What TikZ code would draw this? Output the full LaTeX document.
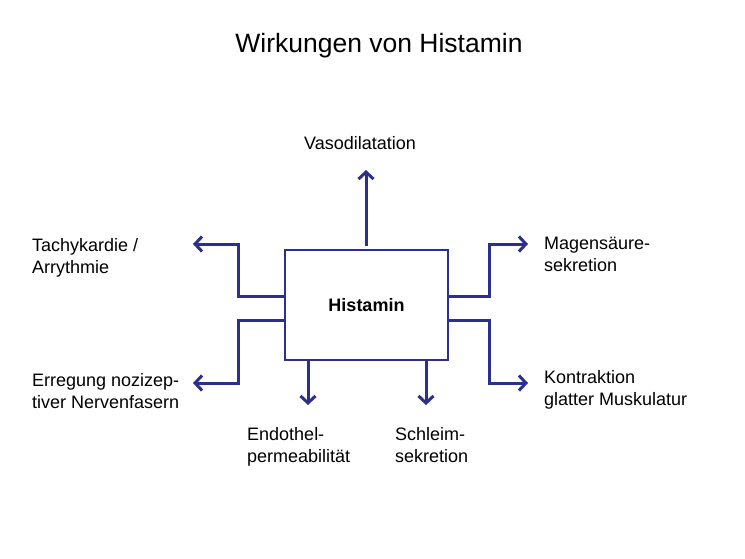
\documentclass[tikz,border=0pt]{standalone}
\usepackage{fontspec}
\setmainfont{Liberation Sans}
\usetikzlibrary{arrows.meta}
\definecolor{navy}{RGB}{44,47,140}
\tikzset{
  lbl/.style={inner sep=0pt, align=left, font=\fontsize{18}{22}\selectfont, text=black},
  conn/.style={draw=navy, line width=3pt, -{Straight Barb[length=7pt,width=15pt]}},
  hbox/.style={draw=navy, line width=2.2pt, fill=white, minimum width=163pt, minimum height=110pt, inner sep=0pt, font=\fontsize{18}{22}\selectfont\bfseries}
}
\begin{document}
\begin{tikzpicture}[x=1pt,y=-1pt]
\useasboundingbox (0,0) rectangle (745,558);
\node[inner sep=0pt, font=\fontsize{26.5}{30}\selectfont, anchor=base] (title) at (379,52) {Wirkungen von Histamin};
\node[hbox] (h) at (366.5,305) {Histamin};
% coordinates
\coordinate (ul) at (h.west |- 0,296);
\coordinate (ll) at (h.west |- 0,320);
\coordinate (ur) at (h.east |- 0,296);
\coordinate (lr) at (h.east |- 0,320);
\coordinate (topst) at (366,246);
\coordinate (b1) at (308,360);
\coordinate (b2) at (426,360);
% labels (base = baseline of last line)
\node[lbl, anchor=base] (vaso) at (360,149) {Vasodilatation};
\node[lbl, anchor=base west] (tach) at (32,273) {Tachykardie /\\Arrythmie};
\node[lbl, anchor=base west] (erreg) at (32,408) {Erregung nozizep-\\tiver Nervenfasern};
\node[lbl, anchor=base west] (magen) at (544,271) {Magensäure-\\sekretion};
\node[lbl, anchor=base west] (kontr) at (544,405) {Kontraktion\\glatter Muskulatur};
\node[lbl, anchor=base west] (endo) at (247,462) {Endothel-\\permeabilität};
\node[lbl, anchor=base west] (schl) at (395,462) {Schleim-\\sekretion};
% tips
\coordinate (tTop) at (366,170);
\coordinate (tTach) at (193,244);
\coordinate (tErreg) at (193,383);
\coordinate (tMagen) at (528,244);
\coordinate (tKontr) at (528,383);
\coordinate (tEndo) at (308,405);
\coordinate (tSchl) at (426,405);
% connectors
\draw[conn] (topst) -- (tTop);
\draw[conn] (ul) -| (238,244) -- (tTach);
\draw[conn] (ll) -| (238,383) -- (tErreg);
\draw[conn] (ur) -| (489,244) -- (tMagen);
\draw[conn] (lr) -| (489,383) -- (tKontr);
\draw[conn] (b1) -- (tEndo);
\draw[conn] (b2) -- (tSchl);
\end{tikzpicture}
\end{document}
